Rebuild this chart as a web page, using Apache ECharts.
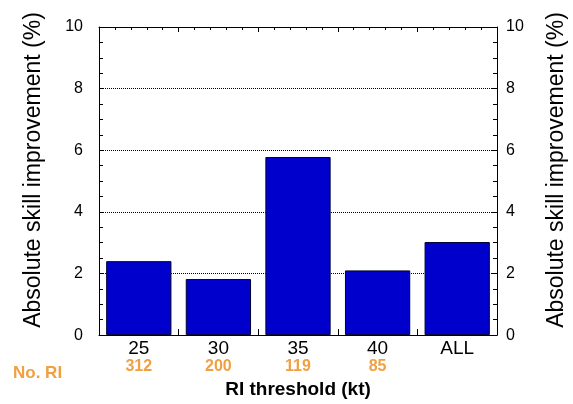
<!DOCTYPE html>
<html><head><meta charset="utf-8">
<script src="https://cdn.jsdelivr.net/npm/echarts@6/dist/echarts.min.js"></script>
<style>html,body{margin:0;padding:0;background:#fff}#c{width:573px;height:404px}</style>
</head><body><div id="c"></div>
<script>
var categories = ['25', '30', '35', '40', 'ALL'];
var values = [2.40, 1.82, 5.78, 2.10, 3.02];
var counts = ['312', '200', '119', '85', ''];
var yTicks = [0, 2, 4, 6, 8, 10];
var FONT = '"Liberation Sans", Arial, Helvetica, sans-serif';
var ORANGE = '#f0a040';
var chart = echarts.init(document.getElementById('c'), null, {renderer: 'canvas'});
var yAxisCommon = {
  type: 'value', min: yTicks[0], max: yTicks[yTicks.length - 1], interval: 2,
  axisLine: {show: true, onZero: false, lineStyle: {color: '#000', width: 1}},
  axisTick: {show: true, inside: true, length: 5, lineStyle: {color: '#000'}},
  minorTick: {show: true, splitNumber: 4, length: 4, lineStyle: {color: '#000'}},
  axisLabel: {color: '#000', fontSize: 16, fontFamily: FONT}
};
chart.setOption({
  animation: false,
  grid: {left: 99, right: 76, top: 27, bottom: 62},
  xAxis: [{
    type: 'category', data: categories, position: 'bottom',
    axisLine: {onZero: false, lineStyle: {color: '#000', width: 1}},
    axisTick: {show: true, inside: true, length: 6, alignWithLabel: false, lineStyle: {color: '#000'}},
    axisLabel: {
      margin: 4, interval: 0, fontFamily: FONT, color: '#000', fontSize: 19, lineHeight: 19,
      formatter: function (v, i) { return v + '\n{c|' + (counts[i] || ' ') + '}'; },
      rich: {c: {color: ORANGE, fontSize: 16, fontWeight: 'bold', fontFamily: FONT, lineHeight: 17}}
    },
    name: 'RI threshold (kt)', nameLocation: 'middle', nameGap: 54,
    nameTextStyle: {fontSize: 19, fontWeight: 'bold', color: '#000', fontFamily: FONT, verticalAlign: 'middle'}
  }, {
    type: 'value', position: 'top', min: 0, max: categories.length, interval: 1,
    axisLine: {show: true, onZero: false, lineStyle: {color: '#000', width: 1}},
    axisTick: {show: true, inside: true, length: 5, lineStyle: {color: '#000'}},
    minorTick: {show: true, splitNumber: 5, length: 3, lineStyle: {color: '#000'}},
    axisLabel: {show: false}, splitLine: {show: false}
  }],
  yAxis: [
    Object.assign({}, yAxisCommon, {
      position: 'left',
      axisLabel: Object.assign({}, yAxisCommon.axisLabel, {margin: 16}),
      splitLine: {show: true, lineStyle: {color: '#000', type: [1, 1], width: 1}}
    }),
    Object.assign({}, yAxisCommon, {
      position: 'right',
      axisLabel: Object.assign({}, yAxisCommon.axisLabel, {margin: 9}),
      splitLine: {show: false}
    })
  ],
  series: [{
    type: 'bar', data: values, xAxisIndex: 0, yAxisIndex: 0,
    barCategoryGap: '18%',
    itemStyle: {color: '#0000cc', borderColor: '#000033', borderWidth: 1}
  }],
  graphic: [
    {type: 'text', x: 34, y: 170, rotation: Math.PI / 2,
      style: {text: 'Absolute skill improvement (%)', font: '23px ' + FONT, fill: '#000', align: 'center', verticalAlign: 'middle'}},
    {type: 'text', x: 557, y: 170, rotation: Math.PI / 2,
      style: {text: 'Absolute skill improvement (%)', font: '23px ' + FONT, fill: '#000', align: 'center', verticalAlign: 'middle'}},
    {type: 'text', x: 13, y: 373,
      style: {text: 'No. RI', font: 'bold 17px ' + FONT, fill: ORANGE, align: 'left', verticalAlign: 'middle'}}
  ]
});
</script></body></html>
